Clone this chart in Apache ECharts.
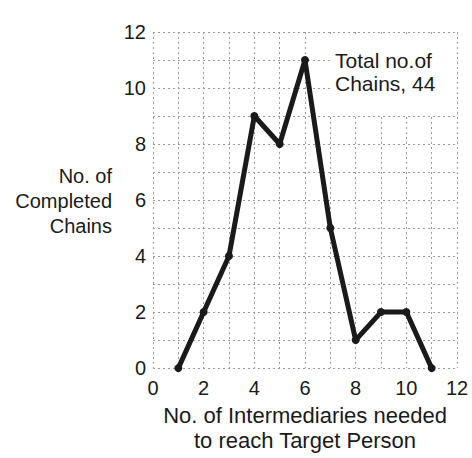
<!DOCTYPE html>
<html>
<head>
<meta charset="utf-8">
<script src="https://cdn.jsdelivr.net/npm/echarts@6/dist/echarts.min.js"></script>
<style>
  html, body { margin: 0; padding: 0; background: #fff; }
  #chart { width: 472px; height: 458px; }
</style>
</head>
<body>
<div id="chart"></div>
<script>
  // intermediaries needed vs. completed chains
  const intermediaries = [1, 2, 3, 4, 5, 6, 7, 8, 9, 10, 11];
  const chains = [0, 2, 4, 9, 8, 11, 5, 1, 2, 2, 0];
  const xTicks = [0, 2, 4, 6, 8, 10, 12];
  const yTicks = [0, 2, 4, 6, 8, 10, 12];

  const font = 'Liberation Sans, Arial, sans-serif';
  const ink = '#1a1a1a';

  let chart = echarts.init(document.getElementById('chart'), null, { renderer: 'svg' });

  let gridLine = {
    show: true,
    lineStyle: { color: '#9a9a9a', width: 1, type: [2, 3] }
  };

  let option = {
    animation: false,
    backgroundColor: '#fff',
    grid: { left: 153, right: 15, top: 32, bottom: 88 },
    xAxis: {
      type: 'value',
      min: 0,
      max: 12,
      interval: 1,
      name: 'No. of Intermediaries needed\nto reach Target Person',
      nameLocation: 'middle',
      nameGap: 29,
      nameTextStyle: { fontFamily: font, fontSize: 22, color: ink, lineHeight: 25 },
      axisLine: { show: false },
      axisTick: { show: false },
      axisLabel: {
        fontFamily: font, fontSize: 20, color: ink, margin: 10,
        formatter: v => (xTicks.indexOf(v) >= 0 ? String(v) : '')
      },
      splitLine: gridLine
    },
    yAxis: {
      type: 'value',
      min: 0,
      max: 12,
      interval: 1,
      axisLine: { show: false },
      axisTick: { show: false },
      axisLabel: {
        fontFamily: font, fontSize: 20, color: ink, margin: 7,
        formatter: v => (yTicks.indexOf(v) >= 0 ? String(v) : '')
      },
      splitLine: gridLine
    },
    graphic: [
      {
        type: 'text',
        x: 112,
        y: 163,
        z: 100,
        style: {
          text: 'No. of\nCompleted\nChains',
          font: '20px ' + font,
          fill: ink,
          align: 'right',
          verticalAlign: 'top',
          lineHeight: 25
        }
      },
      {
        // white patch behind the note, hides the grid there
        type: 'rect',
        shape: { x: 330, y: 35, width: 125, height: 79 },
        style: { fill: '#fff' },
        z: 90
      },
      {
        type: 'text',
        x: 335,
        y: 49,
        z: 100,
        style: {
          text: 'Total no.of\nChains, 44',
          font: '21px ' + font,
          fill: ink,
          align: 'left',
          verticalAlign: 'top',
          lineHeight: 23
        }
      }
    ],
    series: [
      {
        type: 'line',
        data: intermediaries.map((x, i) => [x, chains[i]]),
        symbol: 'circle',
        symbolSize: 8,
        lineStyle: { color: ink, width: 5 },
        itemStyle: { color: ink },
        clip: false
      }
    ]
  };

  chart.setOption(option);
</script>
</body>
</html>
